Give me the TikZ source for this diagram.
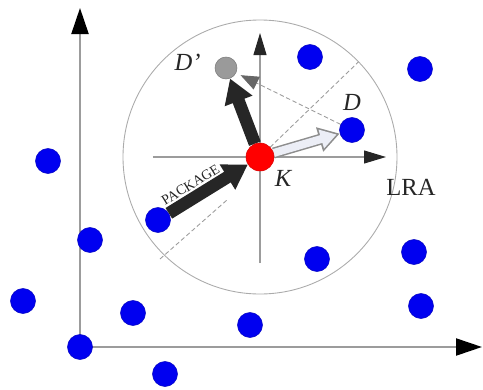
\documentclass[tikz,border=0pt]{standalone}
\usepackage{fontspec}
\setmainfont{Liberation Serif}
\usetikzlibrary{arrows.meta,positioning,calc,backgrounds}
\definecolor{cDot}{HTML}{0000F0}
\definecolor{cKey}{HTML}{FF0000}
\definecolor{cGhost}{HTML}{9A9A9A}
\definecolor{cAxis}{HTML}{9C9C9C}
\definecolor{cInk}{HTML}{262626}
\definecolor{cPale}{HTML}{ECEEF6}
\tikzset{
  pt/.style   ={circle,inner sep=0pt,minimum size=5mm,fill=cDot,
                draw=cDot!80!black,line width=0.3pt},
  kpt/.style  ={pt,minimum size=5.6mm,fill=cKey,draw=cKey!85!black},
  gpt/.style  ={pt,minimum size=4.4mm,fill=cGhost,draw=cGhost!80!black},
  axis/.style ={cAxis,line width=1.2pt,
                -{Triangle[length=5.2mm,width=3.4mm,color=black]}},
  iaxis/.style={cAxis,line width=0.6pt,
                -{Triangle[length=4.4mm,width=2.6mm,color=cInk]}},
  fat/.style  ={cInk,line width=2.5mm,-{Triangle[length=4.8mm,width=5.6mm]}},
  guide/.style={cAxis,line width=0.5pt,dash pattern=on 2.5pt off 1.5pt},
  lbl/.style  ={font=\fontsize{14}{16}\selectfont\itshape,text=cInk},
}
\begin{document}
\begin{tikzpicture}
\useasboundingbox (0,0) rectangle (9.66,7.78);
% key points
\node[kpt] (K)  at (5.2,4.64) {};
\node[gpt] (Dp) at (4.52,6.42) {};
\node[pt]  (D)  at (7.04,5.18) {};
\node[pt]  (P)  at (3.16,3.38) {};
% the other data points
\foreach \n/\x/\y in {q1/6.2/6.64, q2/8.4/6.4, q3/0.96/4.56, q4/1.8/2.98,
                      q5/8.28/2.74, q6/6.34/2.6, q7/0.46/1.76, q8/2.66/1.52,
                      q9/5.0/1.28, q10/8.42/1.66, q11/1.6/0.84, q12/3.3/0.3}
  \node[pt] (\n) at (\x,\y) {};
\coordinate (O)    at (1.6,0.84);
\coordinate (ytop) at (1.6,7.62);
\coordinate (xend) at (9.64,0.84);
\coordinate (rim1) at ($(K)+(44:2.74)$);
\coordinate (lo1)  at (3.2,2.6);
\coordinate (lo2)  at (4.54,3.78);
\begin{scope}[on background layer]
  % outer axes
  \draw[axis] (O) -- (ytop);
  \draw[axis] (O) -- (xend);
  % LRA circle and local axes
  \draw[cAxis!85!white,line width=0.5pt] (K.center) circle (2.74);
  \draw[iaxis] ($(K.center)+(-2.14,0)$) -- ($(K.center)+(2.52,0)$);
  \draw[iaxis] ($(K.center)+(0,-2.12)$) -- ($(K.center)+(0,2.48)$);
  % dashed guides
  \draw[guide] (K.center) -- (rim1);
  \draw[guide] (lo1) -- (lo2);
  \draw[guide,-{Triangle[length=3.6mm,width=2.8mm,color=black!60]},
        shorten >=1mm] (D) -- (Dp);
  % moves
  \draw[fat] (P) -- (K);
  \draw[fat] (K) -- (Dp);
  \draw[cAxis!90!black,line width=2.2mm,
        -{Triangle[length=4.2mm,width=4.8mm]}] (K) -- (D);
  \draw[cPale,line width=1.6mm,-{Triangle[length=3.2mm,width=3.7mm]},
        shorten >=0.65mm] (K) -- (D);
  \path (P) -- (K) node[pos=0.36,sloped,above=1.4mm,inner sep=0.5pt,
        font=\fontsize{8}{9}\selectfont,text=cInk] (pk) {PACKAGE};
\end{scope}
% labels
\node[lbl,left=1.6mm of Dp,yshift=1.2mm] (dpl) {D'};
\node[lbl,above=0mm of D] (dl) {D};
\node[lbl] (kl) at (5.66,4.22) {K};
\node[font=\fontsize{14}{16}\selectfont,text=cInk] (lra) at (8.22,4.04) {LRA};
\end{tikzpicture}
\end{document}
